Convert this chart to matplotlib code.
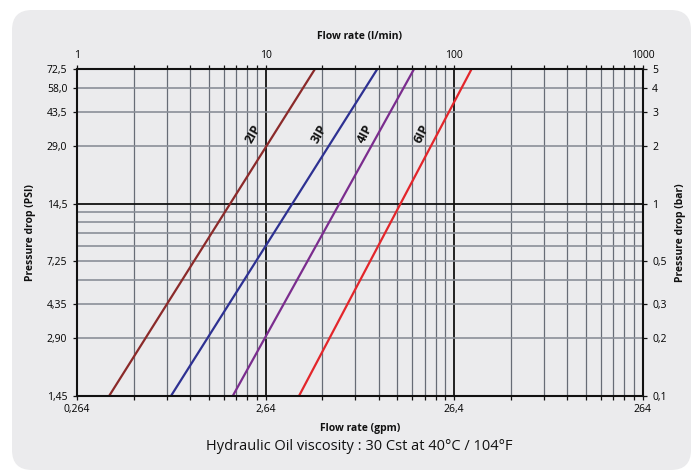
import numpy as np
import matplotlib
matplotlib.use("Agg")
import matplotlib.pyplot as plt
from matplotlib.patches import FancyBboxPatch
from matplotlib.ticker import FixedLocator, NullFormatter, NullLocator

plt.rcParams['font.family'] = ['Open Sans', 'DejaVu Sans']

# ---- data ----
flow_ticks = [1, 10, 100, 1000]               # l/min
flow_top_labels = ["1", "10", "100", "1000"]
flow_gpm_labels = ["0,264", "2,64", "26,4", "264"]
bar_ticks = [0.1, 0.2, 0.3, 0.5, 1, 2, 3, 4, 5]
bar_labels = ["0,1", "0,2", "0,3", "0,5", "1", "2", "3", "4", "5"]
psi_labels = ["1,45", "2,90", "4,35", "7,25", "14,5", "29,0", "43,5", "58,0", "72,5"]

dp_bar = [0.1, 5]                 # pressure drop at the line ends (bar)
flow_2ip = [1.48, 18.3]           # l/min
flow_3ip = [3.15, 39.2]
flow_4ip = [6.70, 61.4]
flow_6ip = [15.05, 124.0]

series_names = ["2IP", "3IP", "4IP", "6IP"]
series_flows = [flow_2ip, flow_3ip, flow_4ip, flow_6ip]
series_colors = ["#8b2a2a", "#2e3192", "#7b2d8e", "#e3262b"]
label_rot = [60, 60, 62, 63]
label_dx = [-15, -12, -9, -11]

W, H = 696, 471
fig = plt.figure(figsize=(W / 100, H / 100), dpi=100)
fig.patch.set_facecolor("white")

panel = FancyBboxPatch((12, 1), 679, 460,
                       boxstyle="round,pad=0,rounding_size=20",
                       transform=None, facecolor="#ebebed", edgecolor="none",
                       zorder=0)
fig.add_artist(panel)

left, right, top, bottom = 77, 642.5, 69, 396
ax = fig.add_axes([left / W, 1 - bottom / H, (right - left) / W, (bottom - top) / H])
ax.set_facecolor("none")
ax.set_xscale("log")
ax.set_yscale("log")
ax.set_xlim(1, 1000)
ax.set_ylim(0.1, 5)

# grid lines
minor_x = [m * d for d in (1, 10, 100) for m in range(2, 10)]
for xv in minor_x:
    ax.axvline(xv, color="#676c76", lw=0.9, zorder=1)
for xv in (10, 100):
    ax.axvline(xv, color="#111111", lw=1.3, zorder=1)
minor_y = [0.2, 0.3, 0.4, 0.5, 0.6, 0.7, 0.8, 0.9, 2, 3, 4]
for yv in minor_y:
    ax.axhline(yv, color="#8a8f98", lw=1.2, zorder=1)
ax.axhline(1, color="#111111", lw=1.3, zorder=1)

# series
for name, fl, col, rot, dx in zip(series_names, series_flows, series_colors, label_rot, label_dx):
    ax.plot(fl, dp_bar, color=col, lw=1.6, zorder=3, solid_capstyle="butt")
    yl = 2.3
    lx = 10 ** np.interp(np.log10(yl), np.log10(dp_bar), np.log10(fl))
    ax.annotate(name, xy=(lx, yl), xytext=(dx, 0), textcoords="offset points",
                rotation=rot, ha="center", va="center", fontsize=9,
                fontweight="bold", color="#111111", zorder=4)

for s in ax.spines.values():
    s.set_color("#111111")
    s.set_linewidth(1.5)
    s.set_zorder(5)

# bottom axis (gpm)
ax.xaxis.set_major_locator(FixedLocator(flow_ticks))
ax.set_xticklabels(flow_gpm_labels)
ax.xaxis.set_minor_locator(FixedLocator(minor_x))
ax.xaxis.set_minor_formatter(NullFormatter())
ax.tick_params(axis="x", which="both", direction="out", length=3, width=0.9,
               color="#111111", labelsize=7.5, pad=3)
# left axis (PSI)
ax.yaxis.set_major_locator(FixedLocator(bar_ticks))
ax.set_yticklabels(psi_labels)
ax.yaxis.set_minor_locator(NullLocator())
ax.tick_params(axis="y", which="both", direction="out", length=3, width=0.9,
               color="#111111", labelsize=7.5, pad=4)

# top axis (l/min)
axt = ax.secondary_xaxis("top")
axt.xaxis.set_major_locator(FixedLocator(flow_ticks))
axt.set_xticklabels(flow_top_labels)
axt.xaxis.set_minor_locator(FixedLocator(minor_x))
axt.xaxis.set_minor_formatter(NullFormatter())
axt.tick_params(axis="x", which="both", direction="out", length=3, width=0.9,
                color="#111111", labelsize=7.5, pad=3)
axt.spines["top"].set_visible(False)

# right axis (bar)
axr = ax.secondary_yaxis("right")
axr.yaxis.set_major_locator(FixedLocator(bar_ticks))
axr.set_yticklabels(bar_labels)
axr.yaxis.set_minor_locator(NullLocator())
axr.tick_params(axis="y", which="both", direction="out", length=3, width=0.9,
                color="#111111", labelsize=7.5, pad=4)
axr.spines["right"].set_visible(False)

# titles
cx = (left + right) / 2 / W
fig.text(cx, 1 - 36 / H, "Flow rate (l/min)", ha="center", va="center",
         fontsize=7.5, fontweight="bold", color="#111111")
fig.text(cx, 1 - 428 / H, "Flow rate (gpm)", ha="center", va="center",
         fontsize=7.5, fontweight="bold", color="#111111")
fig.text(cx, 1 - 447 / H, "Hydraulic Oil viscosity : 30 Cst at 40°C / 104°F",
         ha="center", va="center", fontsize=10.5, color="#111111")
cy = 1 - (top + bottom) / 2 / H
fig.text(30 / W, cy, "Pressure drop (PSI)", rotation=90, ha="center", va="center",
         fontsize=7.5, fontweight="bold", color="#111111")
fig.text(680 / W, cy, "Pressure drop (bar)", rotation=90, ha="center", va="center",
         fontsize=7.5, fontweight="bold", color="#111111")

fig.savefig("out.png", dpi=100)
